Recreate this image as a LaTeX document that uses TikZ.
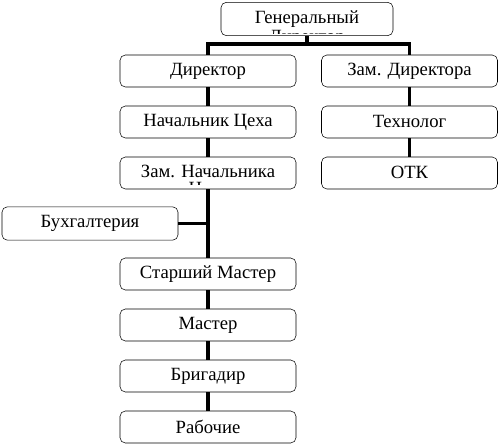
\documentclass[tikz,border=0pt]{standalone}
\usepackage{fontspec}
\setmainfont{Liberation Serif}

\tikzset{
	cargo/.style={draw, rounded corners=4pt, minimum width=132pt, minimum height=24pt, inner sep=0pt, font=\fontsize{14pt}{16pt}\selectfont},
	enlace/.style={line width=2.4pt},
	corte/.style={inner sep=0pt, anchor=north, font=\fontsize{14pt}{16pt}\selectfont}
}

\begin{document}
\begin{tikzpicture}[x=0.75pt, y=-0.75pt]
\useasboundingbox (0,0) rectangle (499,448);

% Cargos
\node[cargo, minimum width=129pt, minimum height=25pt] (gen) at (307,19) {\raisebox{3pt}{Генеральный}};
\node[cargo] (dir) at (208,71) {\raisebox{1pt}{Директор}};
\node[cargo] (zdir) at (409.5,71) {\raisebox{1pt}{Зам. Директора}};
\node[cargo] (nach) at (208,122) {\raisebox{1pt}{Начальник Цеха}};
\node[cargo] (znach) at (208,173) {\raisebox{3pt}{Зам. Начальника}};
\node[cargo, minimum height=25pt] (buh) at (90,223.5) {\raisebox{1pt}{Бухгалтерия}};
\node[cargo] (stm) at (208,274) {\raisebox{1pt}{Старший Мастер}};
\node[cargo] (mas) at (208,325) {\raisebox{1pt}{Мастер}};
\node[cargo] (brig) at (208,376) {\raisebox{1pt}{Бригадир}};
\node[cargo] (rab) at (208,427) {\raisebox{1pt}{Рабочие}};
\node[cargo] (tech) at (409.5,122) {\raisebox{1pt}{Технолог}};
\node[cargo] (otk) at (409.5,173) {\raisebox{1pt}{ОТК}};

% Segunda linea cortada
\begin{scope}
	\clip (240,30) rectangle (380,33.5);
	\node[corte] (gen2) at (307,30.5) {Директор};
\end{scope}
\begin{scope}
	\clip (140,181) rectangle (280,184.5);
	\node[corte] (znach2) at (208,182) {Цеха};
\end{scope}

% Enlaces
\coordinate (barra) at (307,44);
\draw[enlace] (gen.south) -- (barra);
\draw[enlace] (dir.north) |- (barra) -| (zdir.north);

\foreach \a/\b in {dir/nach, nach/znach, znach/stm, stm/mas, mas/brig, brig/rab, zdir/tech, tech/otk}
	\draw[enlace] (\a.south) -- (\b.north);

\draw[enlace] (buh.east) -- (buh.east -| znach.south);
\end{tikzpicture}
\end{document}
